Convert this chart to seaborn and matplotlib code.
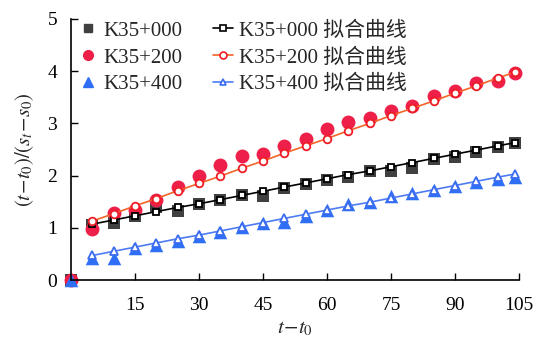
import numpy as np
import pandas as pd
import matplotlib
matplotlib.use("Agg")
import matplotlib.pyplot as plt
from matplotlib.lines import Line2D
import seaborn as sns

# Elapsed time t - t0 (days) for measured points and fitted curves
t_meas = [0, 5, 10, 15, 20, 25, 30, 35, 40, 45, 50, 55, 60, 65, 70, 75, 80, 85, 90, 95, 100, 104]
t_fit = [5, 10, 15, 20, 25, 30, 35, 40, 45, 50, 55, 60, 65, 70, 75, 80, 85, 90, 95, 100, 104]

# Measured (t - t0)/(s_t - s0)
k000_meas = [0, 1.06, 1.10, 1.23, 1.40, 1.33, 1.46, 1.54, 1.62, 1.61, 1.77, 1.84, 1.92, 1.98,
             2.08, 2.08, 2.15, 2.32, 2.36, 2.45, 2.54, 2.63]
k200_meas = [0, 0.98, 1.28, 1.35, 1.54, 1.79, 2.00, 2.21, 2.37, 2.42, 2.56, 2.71, 2.90, 3.02,
             3.10, 3.23, 3.33, 3.52, 3.62, 3.78, 3.81, 3.96]
k400_meas = [0, 0.42, 0.42, 0.61, 0.67, 0.74, 0.84, 0.92, 1.02, 1.10, 1.12, 1.23, 1.35, 1.46,
             1.50, 1.60, 1.67, 1.73, 1.81, 1.87, 1.94, 1.98]

# Fitted curves
k000_fit = [1.07, 1.15, 1.23, 1.31, 1.39, 1.46, 1.54, 1.62, 1.70, 1.78, 1.86, 1.94, 2.02,
            2.09, 2.17, 2.25, 2.33, 2.41, 2.49, 2.57, 2.63]
k200_fit = [1.13, 1.27, 1.42, 1.56, 1.71, 1.85, 1.99, 2.14, 2.28, 2.43, 2.57, 2.71, 2.86,
            3.00, 3.15, 3.29, 3.43, 3.58, 3.72, 3.87, 3.98]
k400_fit = [0.47, 0.55, 0.63, 0.71, 0.79, 0.86, 0.94, 1.02, 1.10, 1.18, 1.26, 1.34, 1.42,
            1.49, 1.57, 1.65, 1.73, 1.81, 1.89, 1.97, 2.03]

sections = ["K35+000", "K35+200", "K35+400"]
fit_suffix = " 拟合曲线"
x_ticks = [15, 30, 45, 60, 75, 90, 105]
y_ticks = [0, 1, 2, 3, 4, 5]

sns.set_style("ticks")
plt.rcParams["font.family"] = ["Liberation Serif", "Noto Sans CJK SC"]
plt.rcParams["mathtext.fontset"] = "stix"

meas = pd.DataFrame({
    "t": t_meas * 3,
    "v": k000_meas + k200_meas + k400_meas,
    "sec": np.repeat(sections, len(t_meas)),
})
fit = pd.DataFrame({
    "t": t_fit * 3,
    "v": k000_fit + k200_fit + k400_fit,
    "sec": np.repeat(sections, len(t_fit)),
})

pt_style = {
    "K35+000": dict(marker="s", color="#404040", s=65, z=2),
    "K35+200": dict(marker="o", color="#ee1f48", s=100, z=2.1),
    "K35+400": dict(marker="^", color="#2f6ff5", s=95, z=2.2),
}
fit_style = {
    "K35+000": dict(line="#000000", edge="#000000", marker="s"),
    "K35+200": dict(line="#f4632a", edge="#ee1c25", marker="o"),
    "K35+400": dict(line="#4d7bf3", edge="#3a6cf0", marker="^"),
}

fig = plt.figure(figsize=(5.39, 3.39), dpi=100)
ax = fig.add_axes([0.1317, 0.174, 0.8313, 0.770])

for sec in sections:
    st = pt_style[sec]
    sns.scatterplot(data=meas[meas.sec == sec], x="t", y="v", marker=st["marker"],
                    color=st["color"], s=st["s"], linewidth=0, ax=ax, zorder=st["z"],
                    legend=False)
for coll in ax.collections:
    coll.set_clip_on(False)

for sec in sections:
    fs = fit_style[sec]
    sns.lineplot(data=fit[fit.sec == sec], x="t", y="v", color=fs["line"], linewidth=1.2,
                 marker=fs["marker"], markersize=5.5 if fs["marker"] != "s" else 5,
                 markerfacecolor="white", markeredgecolor=fs["edge"], markeredgewidth=1.3,
                 ax=ax, zorder=3, legend=False)

ax.set_xlim(0, 105)
ax.set_ylim(0, 5)
ax.set_xticks(x_ticks)
ax.set_yticks(y_ticks)
ax.tick_params(axis="both", direction="in", length=5, width=1, labelsize=14, colors="black")
ax.tick_params(axis="x", pad=12)
ax.tick_params(axis="y", pad=10)
for side in ["top", "right"]:
    ax.spines[side].set_visible(False)
for side in ["left", "bottom"]:
    ax.spines[side].set_linewidth(1.2)
    ax.spines[side].set_color("black")
    ax.spines[side].set_clip_on(False)

ax.set_xlabel(r"$t\!-\!t_0$", fontsize=15, labelpad=4)
ax.set_ylabel(r"$(t\!-\!t_0)/(s_t\!-\!s_0)$", fontsize=15, labelpad=8)

handles = []
for sec in sections:
    st = pt_style[sec]
    handles.append(Line2D([], [], linestyle="none", marker=st["marker"], color=st["color"],
                          markersize=7 if st["marker"] != "s" else 6))
for sec in sections:
    fs = fit_style[sec]
    handles.append(Line2D([], [], color=fs["line"], linewidth=1.2, marker=fs["marker"],
                          markersize=5, markerfacecolor="white", markeredgecolor=fs["edge"],
                          markeredgewidth=1.2))
labels = sections + [s + fit_suffix for s in sections]
ax.legend(handles, labels, ncol=2, loc="upper left", frameon=False, fontsize=15,
          bbox_to_anchor=(-0.013, 1.04), handlelength=0.95, handletextpad=0.3,
          columnspacing=1.45, labelspacing=0.35, borderaxespad=0.2)

fig.savefig("out.png", dpi=100)
